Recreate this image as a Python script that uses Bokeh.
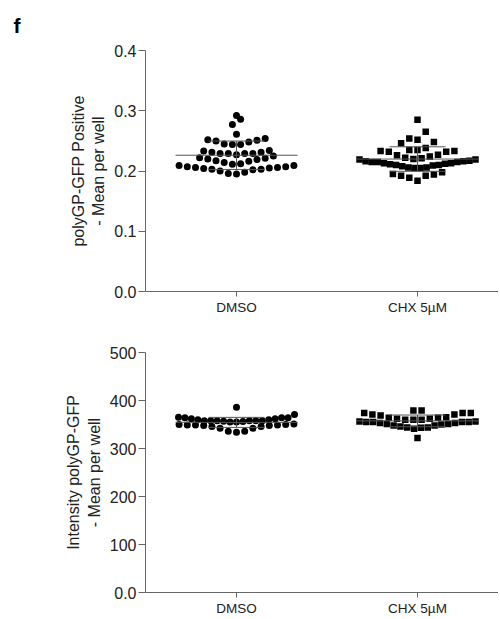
import numpy as np
from bokeh.plotting import figure
from bokeh.layouts import column
from bokeh.models import FixedTicker, Range1d, PrintfTickFormatter
from bokeh.embed import file_html
from bokeh.resources import INLINE

categories = ["DMSO", "CHX 5µM"]

# Panel 1: polyGP-GFP Positive - Mean per well
gp_dmso = [0.207, 0.206, 0.205, 0.203, 0.202, 0.198, 0.195, 0.196, 0.200, 0.203, 0.204, 0.206, 0.207, 0.209,
           0.222, 0.220, 0.217, 0.214, 0.211, 0.209, 0.212, 0.216, 0.219, 0.221,
           0.233, 0.231, 0.229, 0.229, 0.225, 0.227, 0.229, 0.229, 0.231, 0.234,
           0.254, 0.251, 0.248, 0.244, 0.244, 0.245, 0.250, 0.252,
           0.261, 0.277, 0.286, 0.292]
gp_chx = [0.198, 0.194, 0.192, 0.184, 0.189, 0.192, 0.195,
          0.217, 0.215, 0.215, 0.213, 0.211, 0.210, 0.209, 0.206, 0.205, 0.205, 0.206, 0.208, 0.210, 0.212,
          0.213, 0.215, 0.216, 0.216,
          0.226, 0.222, 0.219, 0.219, 0.220, 0.221, 0.224, 0.227,
          0.232, 0.235, 0.233, 0.233, 0.235, 0.238, 0.232,
          0.246, 0.248, 0.254, 0.252, 0.265, 0.285]
gp_ticks = [0.0, 0.1, 0.2, 0.3, 0.4]

# Panel 2: Intensity polyGP-GFP - Mean per well
int_dmso = [350, 349, 349, 348, 346, 342, 336, 334, 336, 342, 346, 348, 349, 350, 351,
            364, 364, 362, 360, 358, 358, 358, 357, 355, 355, 356, 358, 358, 358, 360, 362, 364, 365, 371,
            386]
int_chx = [379, 379, 374, 371, 369, 371, 374, 374,
           364, 362, 360, 360, 360, 362, 364, 365,
           356, 355, 355, 353, 351, 350, 348, 344, 343, 341, 344, 346, 348, 351, 353, 355, 355, 356,
           322]
int_ticks = [0, 100, 200, 300, 400, 500]

FONT = "Liberation Sans"
FIG_W = 498
LEFT = 145
FRAME_W = FIG_W - LEFT
XPX = 181.0
X0 = 1 - 91 / XPX
X1 = X0 + FRAME_W / XPX


def row_swarm(vals, ypx, band, step, wmax):
    """Row beeswarm: points are grouped into horizontal bands (band px high),
    each band spread symmetrically, lowest value in the middle."""
    vals = np.asarray(vals, dtype=float)
    order = np.argsort(vals, kind="stable")
    offs = np.zeros(len(vals))
    i = 0
    while i < len(order):
        start = vals[order[i]]
        j = i
        while j < len(order) and (vals[order[j]] - start) * ypx < band:
            j += 1
        grp = order[i:j]
        n = len(grp)
        s = step if n < 2 else min(step, wmax / (n - 1))
        pos = sorted(((np.arange(n) - (n - 1) / 2) * s).tolist(), key=lambda q: (abs(q), q))
        for g, q in zip(grp, pos):
            offs[g] = q
        i = j
    return offs / XPX


def make_panel(height, top, bottom, ymax, ticks, dmso, chx, ylabel, band,
               fmt=None, overrides=None):
    frame_h = height - top - bottom
    ypx = frame_h / ymax
    p = figure(width=FIG_W, height=height, output_backend="svg", toolbar_location=None,
               x_range=Range1d(X0, X1), y_range=Range1d(0, ymax),
               min_border_left=LEFT, min_border_right=0, min_border_top=top, min_border_bottom=bottom)
    p.outline_line_color = None
    p.grid.visible = False
    for ci, (vals, marker, size) in enumerate([(dmso, "circle", 7), (chx, "square", 6.5)]):
        cx = ci + 1
        xs = cx + row_swarm(vals, ypx, band, 8.2, 116)
        p.scatter(xs, vals, marker=marker, size=size, color="black", line_width=0)
        m = float(np.mean(vals))
        sd = float(np.std(vals, ddof=1))
        hw = 61 / XPX
        cw = 28 / XPX
        p.segment([cx - hw, cx, cx - cw, cx - cw], [m, m - sd, m + sd, m - sd],
                  [cx + hw, cx, cx + cw, cx + cw], [m, m + sd, m + sd, m - sd],
                  line_color="#555555", line_width=1)
    for ax in (p.xaxis[0], p.yaxis[0]):
        ax.axis_line_color = "#666666"
        ax.axis_line_width = 1
        ax.major_tick_line_color = "#666666"
        ax.minor_tick_line_color = None
        ax.major_tick_in = 0
        ax.major_label_text_font = FONT
        ax.major_label_text_color = "#222222"
    p.xaxis.ticker = FixedTicker(ticks=[1, 2])
    p.xaxis.major_label_overrides = {1: categories[0], 2: categories[1]}
    p.xaxis.major_tick_out = 5
    p.xaxis.major_label_standoff = 3
    p.xaxis.major_label_text_font_size = "13.5px"
    p.yaxis.ticker = FixedTicker(ticks=ticks)
    if fmt:
        p.yaxis.formatter = PrintfTickFormatter(format=fmt)
    if overrides:
        p.yaxis.major_label_overrides = overrides
    p.yaxis.major_tick_out = 7
    p.yaxis.major_label_standoff = 2
    p.yaxis.major_label_text_font_size = "16px"
    p.yaxis.axis_label = ylabel
    p.yaxis.axis_label_text_font = FONT
    p.yaxis.axis_label_text_font_size = "16px"
    p.yaxis.axis_label_text_font_style = "normal"
    p.yaxis.axis_label_text_color = "#222222"
    p.yaxis.axis_label_standoff = 4
    return p


p1 = make_panel(320, 50, 29, 0.4, gp_ticks, gp_dmso, gp_chx,
                "polyGP-GFP Positive\n- Mean per well", band=8.7, fmt="%.1f")
p1.title.text = "f"
p1.title.align = "left"
p1.title.vertical_align = "top"
p1.title.offset = -132
p1.title.standoff = 24
p1.title.text_font = FONT
p1.title.text_font_size = "21px"
p1.title.text_font_style = "bold"
p1.title.text_color = "black"

p2 = make_panel(298, 32, 26, 500, int_ticks, int_dmso, int_chx,
                "Intensity polyGP-GFP\n- Mean per well", band=9.0, overrides={0: "0.0"})

layout = column(p1, p2, spacing=0)
open("out.html", "w").write(file_html(layout, INLINE))
